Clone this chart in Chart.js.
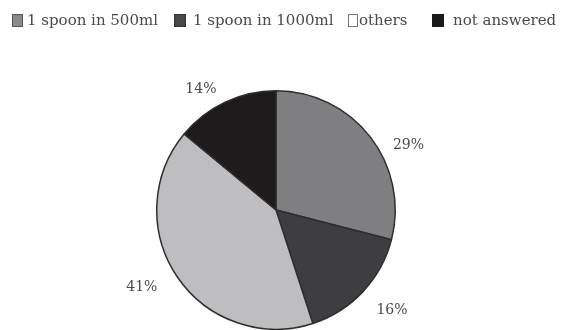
<!DOCTYPE html>
<html>
<head>
<meta charset="utf-8">
<script src="https://cdn.jsdelivr.net/npm/chart.js@4.4.1/dist/chart.umd.min.js"></script>
<style>
  html, body { margin: 0; padding: 0; background: #fff; }
  #wrap { width: 561px; height: 330px; }
</style>
</head>
<body>
<div id="wrap"><canvas id="pieChart" width="561" height="330"></canvas></div>
<script>
const categories = ['1 spoon in 500ml', '1 spoon in 1000ml', 'others', 'not answered'];
const shares = [29, 16, 41, 14];
const sliceColors = ['#7f7f82', '#3e3e40', '#bebec1', '#1f1b1c'];
// legend swatches are drawn differently from the slices
const swatchFill = ['#8a8a8c', '#48484a', '#ffffff', '#1a1a1a'];
const swatchStroke = ['#555555', '#333333', '#777777', '#1a1a1a'];

const textColor = '#4a4a4a';
const fontFamily = '"DejaVu Serif", serif';

// top legend row, drawn by hand so item spacing can be set per entry
const legendRow = {
    id: 'legendRow',
    afterDraw(chart) {
        const c = chart.ctx;
        const xs = [12, 174, 348, 432];
        const widths = [10, 11, 9, 11];
        const gaps = [15, 19, 11, 21];
        c.save();
        c.font = '15px ' + fontFamily;
        c.textBaseline = 'middle';
        categories.forEach((name, i) => {
            c.fillStyle = swatchFill[i];
            c.strokeStyle = swatchStroke[i];
            c.lineWidth = 1;
            c.fillRect(xs[i] + 0.5, 14.5, widths[i], 12);
            c.strokeRect(xs[i] + 0.5, 14.5, widths[i], 12);
            c.fillStyle = textColor;
            c.fillText(name, xs[i] + gaps[i], 21);
        });
        c.restore();
    }
};

// percentage labels placed outside each slice, nudged off the mid angle a little
const outsideLabels = {
    id: 'outsideLabels',
    afterDatasetsDraw(chart) {
        const c = chart.ctx;
        const meta = chart.getDatasetMeta(0);
        const angleShift = [11.9, -2.4, 4.3, -6.8];
        const extraRadius = [28, 34, 35.5, 22.5];
        c.save();
        c.font = '14px ' + fontFamily;
        c.fillStyle = textColor;
        c.textAlign = 'center';
        c.textBaseline = 'middle';
        meta.data.forEach((arc, i) => {
            const p = arc.getProps(['x', 'y', 'startAngle', 'endAngle', 'outerRadius'], true);
            const mid = (p.startAngle + p.endAngle) / 2 + angleShift[i] * Math.PI / 180;
            const r = p.outerRadius + extraRadius[i];
            c.fillText(shares[i] + '%', p.x + Math.cos(mid) * r, p.y + Math.sin(mid) * r);
        });
        c.restore();
    }
};

new Chart(document.getElementById('pieChart'), {
    type: 'pie',
    data: {
        labels: categories,
        datasets: [{
            data: shares,
            backgroundColor: sliceColors,
            borderColor: '#2e2e2e',
            borderWidth: 1.5
        }]
    },
    options: {
        responsive: false,
        animation: false,
        layout: { padding: { top: 90, bottom: 0, left: 0, right: 9 } },
        plugins: {
            legend: { display: false },
            tooltip: { enabled: false }
        }
    },
    plugins: [legendRow, outsideLabels]
});
</script>
</body>
</html>
